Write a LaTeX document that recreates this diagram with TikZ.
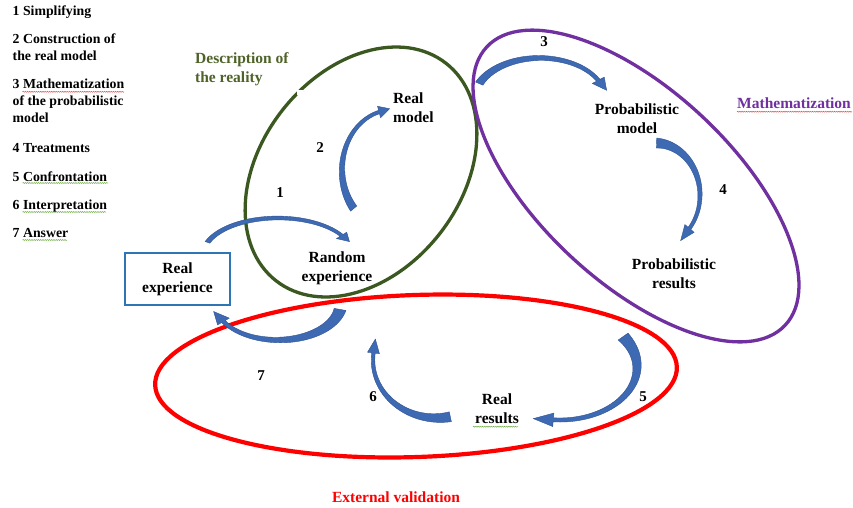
\documentclass[tikz,border=0pt]{standalone}
\usepackage{fontspec}
\setmainfont{Liberation Serif}
\usetikzlibrary{decorations.pathmorphing}
\definecolor{ellgreen}{RGB}{59,88,33}
\definecolor{txtgreen}{RGB}{79,98,40}
\definecolor{ellpurple}{RGB}{112,48,160}
\definecolor{ellred}{RGB}{255,0,0}
\definecolor{boxblue}{RGB}{46,117,182}
\definecolor{arrowblue}{RGB}{62,106,180}
\definecolor{arrowdark}{RGB}{47,82,143}
\definecolor{spellredc}{RGB}{230,80,80}
\definecolor{spellgreenc}{RGB}{112,173,71}
% curved block arrow: cx, cy, rx, ry, t0, t1, w0, w1, head length
\newcommand\carrow[9]{%
  \pgfmathsetmacro\csg{sign((#6)-(#5))}%
  \pgfmathsetmacro\ctx{-(#3)*sin(#6)*\csg}%
  \pgfmathsetmacro\cty{(#4)*cos(#6)*\csg}%
  \pgfmathsetmacro\ctl{sqrt(\ctx*\ctx+\cty*\cty)}%
  \pgfmathsetmacro\ctipx{(#1)+(#3)*cos(#6)+(#9)*\ctx/\ctl}%
  \pgfmathsetmacro\ctipy{(#2)+(#4)*sin(#6)+(#9)*\cty/\ctl}%
  \pgfmathsetmacro\chw{3*(#8)+1.5}%
  \path[arrowfill] plot[domain=#5:#6,samples=50]
     ({(#1)+((#3)+((#8)+((#7)-(#8))*(1-(\x-(#5))/((#6)-(#5)))^2)/2)*cos(\x)},
      {(#2)+((#4)+((#8)+((#7)-(#8))*(1-(\x-(#5))/((#6)-(#5)))^2)/2)*sin(\x)})
   -- ({(#1)+((#3)+\chw/2)*cos(#6)},{(#2)+((#4)+\chw/2)*sin(#6)})
   -- (\ctipx,\ctipy)
   -- ({(#1)+((#3)-\chw/2)*cos(#6)},{(#2)+((#4)-\chw/2)*sin(#6)})
   -- plot[domain=#6:#5,samples=50]
     ({(#1)+((#3)-((#8)+((#7)-(#8))*(1-(\x-(#5))/((#6)-(#5)))^2)/2)*cos(\x)},
      {(#2)+((#4)-((#8)+((#7)-(#8))*(1-(\x-(#5))/((#6)-(#5)))^2)/2)*sin(\x)})
   -- cycle;}
\begin{document}
\begin{tikzpicture}[x=1pt,y=-1pt,
  lab/.style={font=\fontsize{15.5}{19}\selectfont\bfseries, inner sep=0pt, align=center},
  leg/.style={font=\fontsize{13.8}{16.8}\selectfont\bfseries, inner sep=0pt, align=left, anchor=base west},
  num/.style={font=\fontsize{15}{18}\selectfont\bfseries, inner sep=0pt},
  arrowfill/.style={fill=arrowblue, draw=arrowdark, line width=0.4pt},
  spellred/.style={draw=spellredc, line width=0.5pt, decorate, decoration={snake, amplitude=0.5pt, segment length=2.2pt}},
  spellgreen/.style={draw=spellgreenc, line width=0.5pt, decorate, decoration={snake, amplitude=0.5pt, segment length=2.2pt}}]
\useasboundingbox[fill=white] (0,0) rectangle (853,507);

% ellipses
\draw[ellgreen, line width=3.3pt, rotate around={52:(361,172)}] (361,172) ellipse [x radius=138pt, y radius=100pt];
\fill[white] (297,89.5) rectangle (306,94.5);
\draw[ellpurple, line width=3.3pt, rotate around={-43:(636,186)}] (636,186) ellipse [x radius=204pt, y radius=96pt];
\draw[ellred, line width=4.2pt, rotate around={2:(416,376)}] (416,376) ellipse [x radius=261pt, y radius=81pt];

% legend (anchor = baseline of the last line)
\node[leg] (l1) at (12.5,15) {1 Simplifying};
\node[leg] (l2) at (12.5,60) {2 Construction of\\the real model};
\node[leg] (l3) at (12.5,122) {3 Mathematization\\of the probabilistic\\model};
\node[leg] (l4) at (12.5,152) {4 Treatments};
\node[leg] (l5) at (12.5,181) {5 Confrontation};
\node[leg] (l6) at (12.5,209) {6 Interpretation};
\node[leg] (l7) at (12.5,237) {7 Answer};

% region labels
\node[lab, anchor=base west, align=left, text=txtgreen] (desc) at (195,82) {Description of\\the reality};
\node[lab, anchor=base west, text=ellpurple] (math) at (737,108) {Mathematization};
\node[lab, anchor=base, text=ellred] (extval) at (396,502) {External validation};

% main labels
\node[lab, anchor=base west, align=left] (realmodel) at (393,122) {Real\\model};
\node[lab, anchor=base] (randexp) at (337,281) {Random\\experience};
\node[lab, draw=boxblue, line width=2pt, fill=white, minimum width=105pt, minimum height=52pt] (realexp) at (177.5,279) {Real\\experience};
\node[lab, anchor=base] (probmodel) at (637,133) {Probabilistic\\model};
\node[lab, anchor=base] (probres) at (674,288) {Probabilistic\\results};
\node[lab, anchor=base] (realres) at (497,423) {Real\\results};

% step numbers
\node[num] (n1) at (280,193) {1};
\node[num] (n2) at (320,148) {2};
\node[num] (n3) at (544,42) {3};
\node[num] (n4) at (723,190) {4};
\node[num] (n5) at (643,397) {5};
\node[num] (n6) at (373,397) {6};
\node[num] (n7) at (261,376) {7};

% curved block arrows
\carrow{278}{255}{75}{37}{200}{328}{5}{3.5}{10}   % 1
\carrow{392}{170}{50}{60}{140}{255}{8}{3.5}{11}   % 2
\carrow{540}{100}{66}{42}{203}{332}{8}{4}{13}     % 3
\carrow{655}{195}{45}{52}{-88}{40}{10}{3.5}{15}   % 4
\carrow{560}{367}{77}{53}{-35}{95}{12}{4}{20}     % 5
\carrow{437}{360}{64}{58}{78}{187}{10}{3.5}{14}   % 6
\carrow{278}{303}{63}{37}{10}{150}{12}{4}{14}     % 7

% spell-check underlines
\draw[spellred] (22.5,91.8) -- (124,91.8);
\draw[spellred] (737,111.7) -- (852,111.7);
\draw[spellgreen] (22.5,183) -- (108,183);
\draw[spellgreen] (22.5,212) -- (106,212);
\draw[spellgreen] (22.5,240) -- (67,240);
\draw[spellgreen] (473,426.7) -- (518,426.7);
\end{tikzpicture}
\end{document}
